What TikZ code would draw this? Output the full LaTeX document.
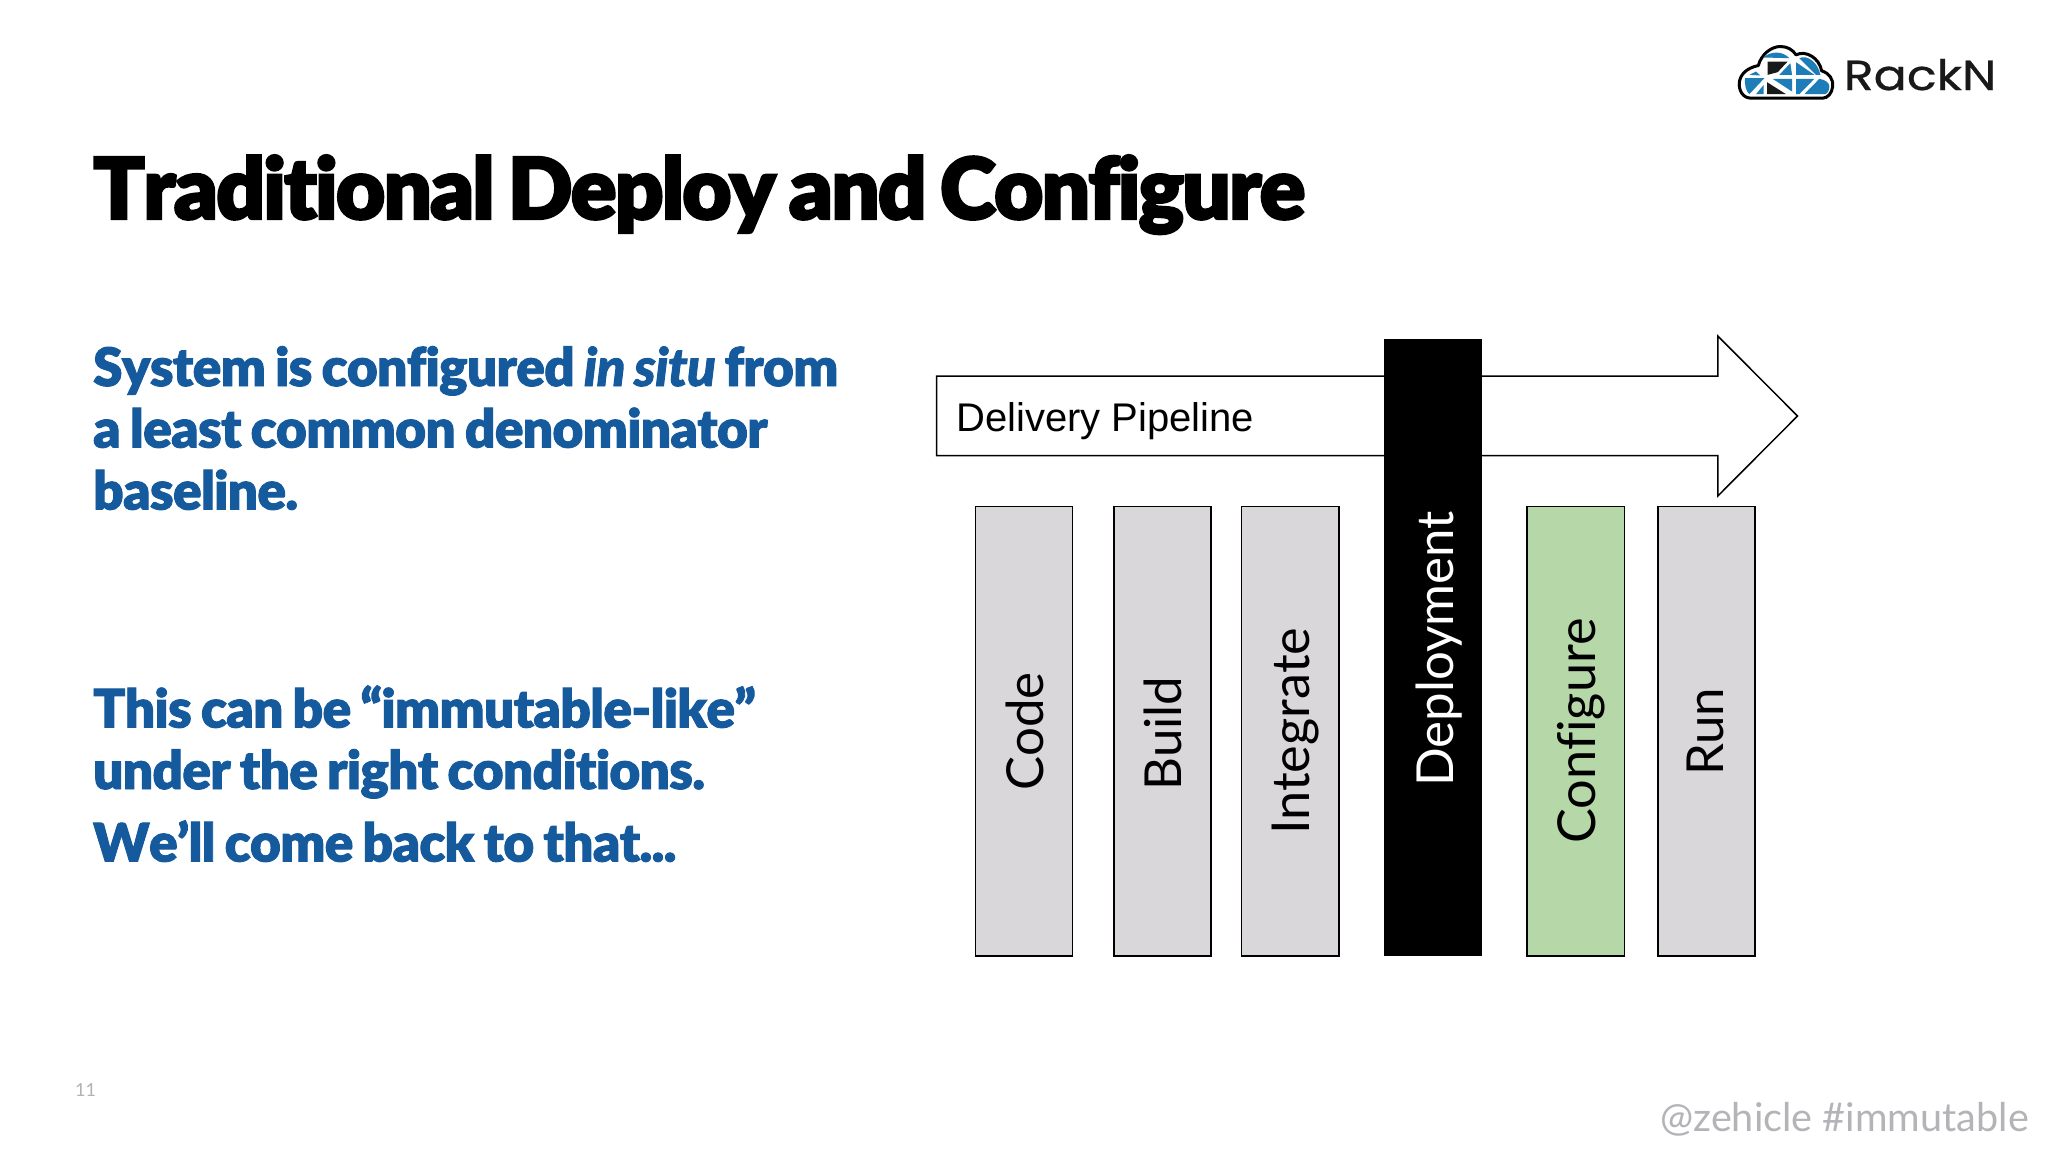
\documentclass[tikz,border=0pt]{standalone}
\usepackage{fontspec}
\setmainfont{Lato}
\newfontfamily\titlefont[FakeBold=2.8,LetterSpace=-2.1,WordSpace=0.75,Ligatures={NoCommon},Kerning=Off]{Lato Black}
\newfontfamily\bodyfont[FakeBold=1.8,LetterSpace=-1.1,WordSpace=0.8,Ligatures={NoCommon},Kerning=Off,ItalicFont={Lato Black Italic}]{Lato Black}
\newfontfamily\labelfont[Ligatures={NoCommon}]{Lato}
\newfontfamily\pipefont{Liberation Sans}
\newfontfamily\logofont[FakeBold=0.6]{Poppins}
\definecolor{slateblue}{HTML}{165A9E}
\definecolor{barGrey}{HTML}{D9D7DA}
\definecolor{barGreen}{HTML}{B6D7A8}
\definecolor{logoBlue}{HTML}{1C7DB8}
\definecolor{tagGrey}{HTML}{B4B3B7}
\begin{document}
\begin{tikzpicture}[x=1pt,y=-1pt,
  bar/.style={draw=black,line width=1.5pt,fill=barGrey},
  barlabel/.style={font=\labelfont\fontsize{51}{51}\selectfont,rotate=90,anchor=base west,inner sep=0pt},
  barlabelwide/.style={barlabel,font=\labelfont\fontsize{52.3}{52}\selectfont},
  bodyline/.style={anchor=base west,inner sep=0pt,text=slateblue,font=\bodyfont\fontsize{53}{53}\selectfont},
  facet/.style={fill=logoBlue},
  darkfacet/.style={fill=black!90}]
\useasboundingbox (0,0) rectangle (2048,1152);
\fill[white] (0,0) rectangle (2048,1152);
\node[anchor=base west,inner sep=0pt,font=\titlefont\fontsize{85}{85}\selectfont] (title) at (93,219) {Traditional Deploy and Configure};
\node[bodyline] (b1) at (93,386) {System is configured \textit{in situ} from};
\node[bodyline] (b2) at (93,447.5) {a least common denominator};
\node[bodyline] (b3) at (93,509.5) {baseline.};
\node[bodyline] (b4) at (93,727.5) {This can be “immutable-like”};
\node[bodyline] (b5) at (93,789) {under the right conditions.};
\node[bodyline] (b6) at (93,861.5) {We’ll come back to that...};
\draw[line width=1.5pt,fill=white,line join=miter] (936.6,376) -- (1717.8,376) -- (1717.8,336) -- (1797.5,416) -- (1717.8,496) -- (1717.8,455.5) -- (936.6,455.5) -- cycle;
\node[anchor=base west,inner sep=0pt,font=\pipefont\fontsize{40}{40}\selectfont] (pipe) at (956,431) {Delivery Pipeline};
\draw[bar] (975.5,506.5) rectangle (1072.4,956);
\draw[bar] (1113.9,506.5) rectangle (1210.8,956);
\draw[bar] (1241.4,506.5) rectangle (1339,956);
\fill[black] (1384.3,339) rectangle (1481.9,956);
\draw[bar,fill=barGreen] (1527,506.5) rectangle (1624.7,956);
\draw[bar] (1657.9,506.5) rectangle (1754.8,956);
\node[barlabel] (code) at (1043,790.5) {Code};
\node[barlabel] (build) at (1181,790.5) {Build};
\node[barlabelwide] (integ) at (1309,835) {Integrate};
\node[barlabel,text=white] (deploy) at (1453,787) {Deployment};
\node[barlabelwide] (conf) at (1595,844) {Configure};
\node[barlabel] (run) at (1723.5,776) {Run};
\node[anchor=base west,inner sep=0pt,text=black!30,font=\labelfont\fontsize{18}{18}\selectfont] (num) at (75,1096) {11};
\node[anchor=base east,inner sep=0pt,text=tagGrey,font=\labelfont\fontsize{39.6}{40}\selectfont] (tag) at (2029,1131) {@zehicle \#immutable};
\node[anchor=base west,inner sep=0pt,xscale=1.17,font=\logofont\fontsize{42}{42}\selectfont,text=black!90] (logo) at (1843.5,90) {RackN};
\begin{scope}[shift={(1731,41.5)},scale=1/3]
\draw[line width=3pt,fill=white,line join=round] (60,170) .. controls (35,170) and (22,145) .. (25,122) .. controls (28,100) and (45,80) .. (82,72) .. controls (90,40) and (120,15) .. (148,15) .. controls (170,15) and (185,25) .. (195,40) .. controls (225,25) and (265,50) .. (272,88) .. controls (295,95) and (308,115) .. (305,135) .. controls (303,155) and (290,170) .. (275,170) -- cycle;
\fill[facet] (97,48) .. controls (120,28) and (155,28) .. (175,50) -- cycle;
\fill[facet] (55,100) -- (75,90) -- (88,102) -- cycle;
\fill[facet] (42,110) -- (100,110) -- (55,158) .. controls (45,150) and (40,130) .. (42,110) -- cycle;
\fill[facet] (75,158) -- (98,130) -- (98,158) -- cycle;
\fill[facet] (145,100) -- (178,65) -- (183,100) -- cycle;
\fill[facet] (125,112) -- (183,112) -- (183,150) -- cycle;
\fill[facet] (195,62) -- (250,100) -- (195,100) -- cycle;
\fill[facet] (205,50) .. controls (230,38) and (262,65) .. (268,100) -- (255,100) -- cycle;
\fill[facet] (195,112) -- (250,112) -- (205,158) -- (195,158) -- cycle;
\fill[facet] (265,112) .. controls (285,115) and (295,125) .. (295,135) .. controls (295,148) and (288,158) .. (280,158) -- (220,158) -- cycle;
\fill[darkfacet] (110,60) -- (170,60) -- (140,92) -- (110,100) -- cycle;
\fill[darkfacet] (108,122) -- (165,158) -- (108,158) -- cycle;
\end{scope}
\end{tikzpicture}
\end{document}
